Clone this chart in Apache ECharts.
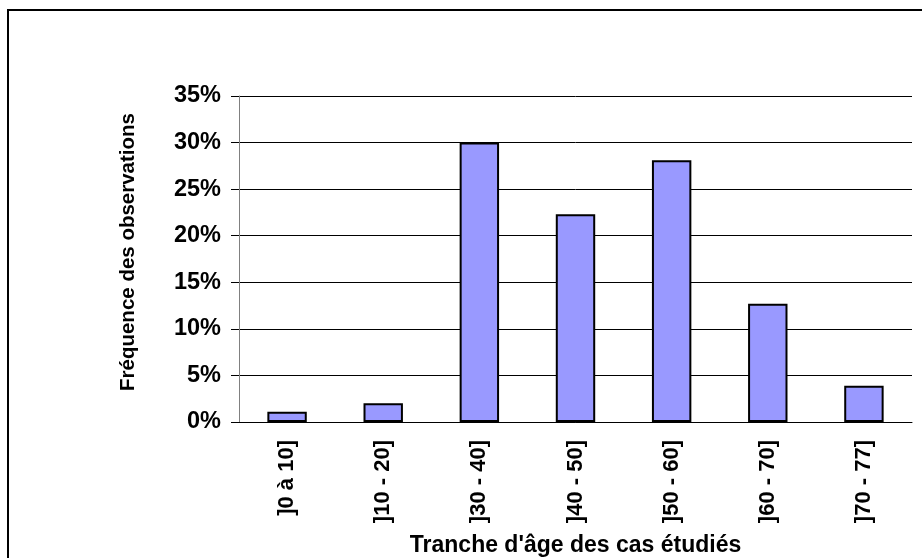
<!DOCTYPE html>
<html>
<head>
<meta charset="utf-8">
<script src="https://cdn.jsdelivr.net/npm/echarts@6/dist/echarts.min.js"></script>
<style>
  html, body { margin: 0; padding: 0; background: #fff; }
  #chart { width: 922px; height: 558px; }
</style>
</head>
<body>
<div id="chart"></div>
<script>
// Age bands of the studied cases and share of observations (%)
const categories = [']0 à 10]', ']10 - 20]', ']30 - 40]', ']40 - 50]', ']50 - 60]', ']60 - 70]', ']70 - 77]'];
const frequencies = [1.1, 2.0, 30.0, 22.3, 28.1, 12.7, 3.9];
const yTicks = [0, 5, 10, 15, 20, 25, 30, 35];
const xTitle = "Tranche d'âge des cas étudiés";
const yTitle = 'Fréquence des observations';

const FONT = '"Liberation Sans", Arial, sans-serif';
const chart = echarts.init(document.getElementById('chart'), null, { renderer: 'canvas' });

chart.setOption({
  animation: false,
  backgroundColor: '#ffffff',
  graphic: [{
    type: 'rect',
    shape: { x: 8, y: 10, width: 2000, height: 2000 },
    style: { fill: 'none', stroke: '#000', lineWidth: 2 },
    silent: true
  }, {
    // vertical axis title
    type: 'text',
    x: 128, y: 252,
    rotation: Math.PI / 2,
    style: {
      text: yTitle, fill: '#000',
      font: 'bold 20.5px ' + FONT,
      textAlign: 'center', textVerticalAlign: 'middle'
    },
    silent: true
  }],
  grid: { left: 239, right: 10, top: 96, bottom: 136, containLabel: false, outerBoundsMode: 'none' },
  xAxis: {
    type: 'category',
    data: categories,
    name: xTitle,
    nameLocation: 'middle',
    nameGap: 112,
    nameTextStyle: { fontFamily: FONT, fontWeight: 'bold', fontSize: 23, color: '#000' },
    axisLine: { lineStyle: { color: '#000', width: 1 } },
    axisTick: { alignWithLabel: false, length: 6, lineStyle: { color: '#808080' } },
    axisLabel: { rotate: 90, margin: 18, fontFamily: FONT, fontWeight: 'bold', fontSize: 22, color: '#000' },
    splitLine: { show: false }
  },
  yAxis: {
    type: 'value',
    min: yTicks[0],
    max: yTicks[yTicks.length - 1],
    interval: yTicks[1] - yTicks[0],
    axisLine: { show: true, lineStyle: { color: '#808080', width: 1 } },
    axisTick: { show: true, length: 8, lineStyle: { color: '#000' } },
    axisLabel: { margin: 18, fontFamily: FONT, fontWeight: 'bold', fontSize: 23.5, color: '#000',
      formatter: v => v + '%' },
    splitLine: { show: true, lineStyle: { color: '#000', width: 1 } }
  },
  series: [{
    type: 'bar',
    data: frequencies,
    barWidth: '41%',
    itemStyle: { color: '#9999FF', borderColor: '#000', borderWidth: 2 }
  }]
});
</script>
</body>
</html>
